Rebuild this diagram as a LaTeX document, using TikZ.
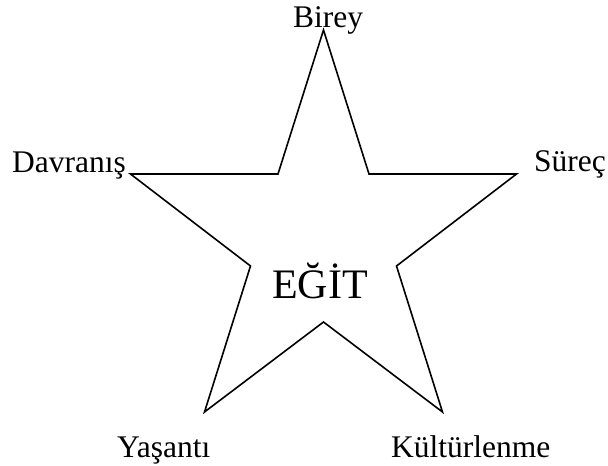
\documentclass[tikz,border=0pt]{standalone}
\usepackage{fontspec}
\setmainfont{Liberation Serif}
\begin{document}
\begin{tikzpicture}[x=1pt,y=-1pt,
  lbl/.style={anchor=base west,inner sep=0pt,font=\fontsize{31.5}{31.5}\selectfont},
  starline/.style={draw=black,line width=1.6pt,line join=miter}]
\useasboundingbox (0,0) rectangle (608,466);
% star outline
\coordinate (top) at (323.5,30);
\coordinate (itr) at (369,174);
\coordinate (rgt) at (516.5,174);
\coordinate (ir) at (396.5,266);
\coordinate (br) at (442.5,412);
\coordinate (ib) at (323.5,322);
\coordinate (bl) at (204.5,412);
\coordinate (il) at (250.5,266);
\coordinate (lft) at (130.5,174);
\coordinate (itl) at (278,174);
\draw[starline] (top) -- (itr) -- (rgt) -- (ir) -- (br) -- (ib) -- (bl) -- (il) -- (lft) -- (itl) -- cycle;
% labels
\node[lbl] (birey) at (293,27) {Birey};
\node[lbl] (davranis) at (12,172) {Davranış};
\node[lbl] (surec) at (534,171) {Süreç};
\node[lbl] (yasanti) at (117,457) {Yaşantı};
\node[lbl] (kultur) at (391,457) {Kültürlenme};
\node[anchor=base west,inner sep=0pt,font=\fontsize{42}{42}\selectfont] (egit) at (272,298) {EĞİT};
\end{tikzpicture}
\end{document}
